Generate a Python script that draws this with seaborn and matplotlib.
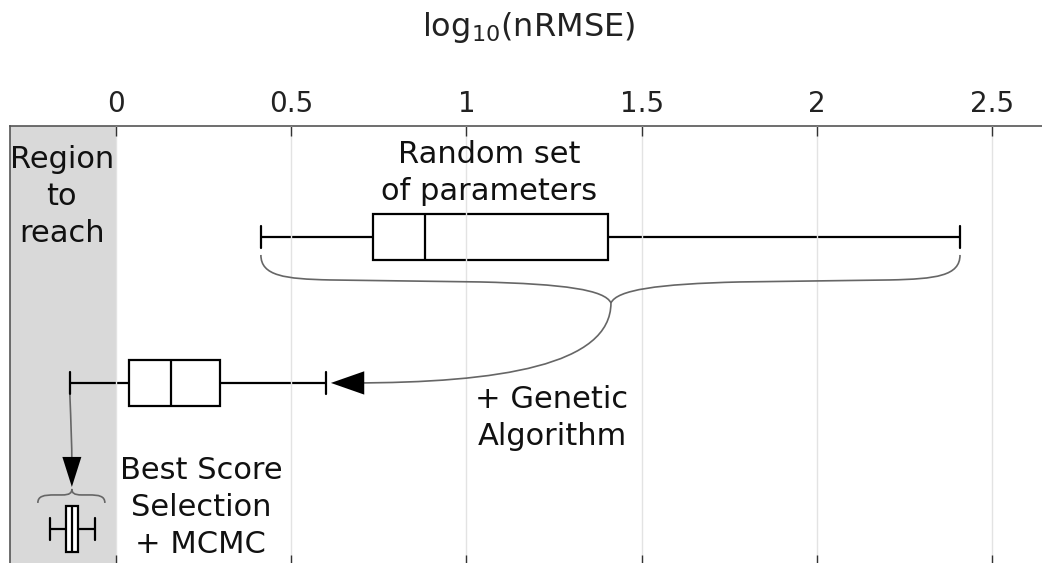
import numpy as np
import pandas as pd
import matplotlib
matplotlib.use("Agg")
import matplotlib.pyplot as plt
from matplotlib.path import Path
from matplotlib.patches import PathPatch
import seaborn as sns

# Box summaries: [min, q1, median, q3, max] of log10(nRMSE)
stages = ['Random', 'GA', 'MCMC']
random_set = [0.414, 0.733, 0.882, 1.404, 2.408]
genetic = [-0.131, 0.037, 0.157, 0.297, 0.599]
mcmc = [-0.188, -0.141, -0.125, -0.109, -0.060]
xticks = [0, 0.5, 1, 1.5, 2, 2.5]
xtick_labels = ['0', '0.5', '1', '1.5', '2', '2.5']

df = pd.DataFrame({
    'stage': np.repeat(stages, 5),
    'value': random_set + genetic + mcmc,
})

sns.set_style('white')
plt.rcParams['font.family'] = ['DejaVu Sans']

W, H = 1042, 563
fig = plt.figure(figsize=(W / 100, H / 100), dpi=100)
# axes spans from x=10px to slightly past the right edge, top at y=126px
ax = fig.add_axes([10 / W, -2 / H, 1038 / W, (565 - 126) / H])

sns.boxplot(data=df, x='value', y='stage', order=stages, orient='h',
            whis=(0, 100), width=0.31, color='white', linecolor='black',
            linewidth=1.6, showfliers=False, ax=ax)

# pixel -> data helpers (for the annotation drawing only)
def px(x, y):
    return ((x - 116) / 350.5, (y - 237) / 146)

ax.set_xlim(-0.302, 2.659)
ax.set_ylim(2.247, -0.760)

ax.axvspan(-0.302, 0, color='#d9d9d9', zorder=0.2, lw=0)
ax.grid(axis='x', color='#e3e3e3', lw=1)
ax.set_axisbelow(False)

ax.xaxis.tick_top()
ax.set_xticks(xticks)
ax.set_xticklabels(xtick_labels)
ax.tick_params(axis='x', which='both', direction='in', length=7, width=1,
               color='#333333', labelsize=20, labelcolor='#222222', pad=6,
               top=True, bottom=True)
ax.set_yticks([])
ax.set_ylabel('')
ax.set_xlabel('log$_{10}$(nRMSE)', fontsize=23, color='#222222')
ax.xaxis.set_label_position('top')
ax.xaxis.label.set_va('baseline')
ax.xaxis.set_label_coords((529 - 10) / 1038, 1 + (126 - 36) / 439)
for side in ['top', 'left', 'right', 'bottom']:
    ax.spines[side].set_color('#555555')
    ax.spines[side].set_linewidth(1.2)

# curly brace under the random box and arrow down to the GA result
curve_col = '#666666'
def bezier(points, codes):
    verts = [px(*p) for p in points]
    return PathPatch(Path(verts, codes), fc='none', ec=curve_col, lw=1.2, zorder=3)

C, M, L = Path.CURVE4, Path.MOVETO, Path.LINETO
ax.add_patch(bezier([(261, 255), (261, 276), (285, 279), (330, 280), (480, 282),
                     (565, 284), (605, 290), (611, 303)],
                    [M, C, C, C, L, C, C, C]))
ax.add_patch(bezier([(960, 255), (960, 276), (936, 279), (890, 280), (740, 282),
                     (657, 284), (617, 290), (611, 303)],
                    [M, C, C, C, L, C, C, C]))
ax.add_patch(bezier([(611, 303), (611, 365), (500, 383), (352, 383)],
                    [M, C, C, C]))
ax.annotate('', xy=px(331, 383), xytext=px(355, 383),
            arrowprops=dict(arrowstyle='-|>,head_length=1.2,head_width=0.42',
                            color='black', mutation_scale=20, lw=0,
                            shrinkA=0, shrinkB=0))

# small brace over the MCMC box with arrow from GA lower whisker
ax.add_patch(bezier([(38, 503), (38, 496), (44, 495), (55, 495), (62, 495),
                     (70, 495), (72, 493), (72, 489)],
                    [M, C, C, C, L, C, C, C]))
ax.add_patch(bezier([(105, 503), (105, 496), (99, 495), (89, 495), (82, 495),
                     (74, 495), (72, 493), (72, 489)],
                    [M, C, C, C, L, C, C, C]))
ax.add_patch(bezier([(70, 395), (71, 420), (72, 445), (72, 464)],
                    [M, C, C, C]))
ax.annotate('', xy=px(72, 487), xytext=px(72, 462),
            arrowprops=dict(arrowstyle='-|>,head_length=1.2,head_width=0.38',
                            color='black', mutation_scale=18, lw=0,
                            shrinkA=0, shrinkB=0))

# multi-line text: 'baseline' aligns the last line's baseline
txt = dict(fontsize=22, color='#111111', ha='center', va='baseline',
           multialignment='center', linespacing=1.35, zorder=4)
ax.text(*px(62, 242), 'Region\nto\nreach', **txt)
ax.text(*px(489, 200), 'Random set\nof parameters', **txt)
ax.text(*px(552, 445), '+ Genetic\nAlgorithm', **txt)
ax.text(*px(201, 553), 'Best Score\nSelection\n+ MCMC', **txt)

fig.savefig('out.png', dpi=100)
